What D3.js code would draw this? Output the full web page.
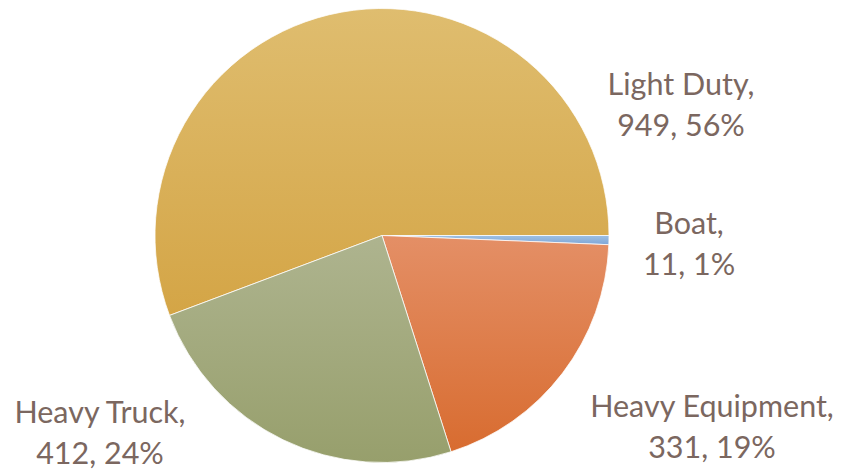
<!DOCTYPE html>
<html><head><meta charset="utf-8">
<script src="https://cdn.jsdelivr.net/npm/d3@7"></script>
<style>html,body{margin:0;padding:0;background:#fff;}svg{display:block;}</style>
</head><body>
<svg id="chart" width="841" height="469"></svg>
<script>
const categories = ["Light Duty", "Boat", "Heavy Equipment", "Heavy Truck"];
const values = [949, 11, 331, 412];
const percents = ["56%", "1%", "19%", "24%"];
const colorsTop = ["#DFBD6F", "#9DBFE3", "#E48F66", "#AEB48F"];
const colorsBottom = ["#D4A546", "#7FA6D6", "#D86C30", "#979F6C"];
const labelPos = [[681, 95], [689, 234], [712, 417], [100, 423]];

const svg = d3.select("#chart");
const cx = 382, cy = 235.5, r = 227;
const total = d3.sum(values);
const firstSpan = values[0] / total * 2 * Math.PI;
const start = Math.PI / 2 - firstSpan;

const pie = d3.pie().sort(null).value(d => d).startAngle(start).endAngle(start + 2 * Math.PI);
const arcs = pie(values);
const arc = d3.arc().innerRadius(0).outerRadius(r);

const defs = svg.append("defs");
categories.forEach((c, i) => {
  const g = defs.append("linearGradient").attr("id", "g" + i).attr("x1", 0).attr("y1", 0).attr("x2", 0).attr("y2", 1);
  g.append("stop").attr("offset", "0%").attr("stop-color", colorsTop[i]);
  g.append("stop").attr("offset", "100%").attr("stop-color", colorsBottom[i]);
});

const gp = svg.append("g").attr("transform", `translate(${cx},${cy})`);
gp.selectAll("path").data(arcs).join("path")
  .attr("d", arc)
  .attr("fill", (d, i) => `url(#g${i})`)
  .attr("stroke", "#fff").attr("stroke-width", 0.75).attr("stroke-linejoin", "round");

const lab = svg.append("g");
categories.forEach((c, i) => {
  const t = lab.append("text").attr("text-anchor", "middle")
    .attr("font-family", "Lato, 'Open Sans', sans-serif").attr("font-size", 30.5)
    .attr("fill", "#7B6760");
  t.append("tspan").attr("x", labelPos[i][0]).attr("y", labelPos[i][1]).text(c + ",");
  t.append("tspan").attr("x", labelPos[i][0]).attr("y", labelPos[i][1] + 41).text(values[i] + ", " + percents[i]);
});
</script>
</body></html>
